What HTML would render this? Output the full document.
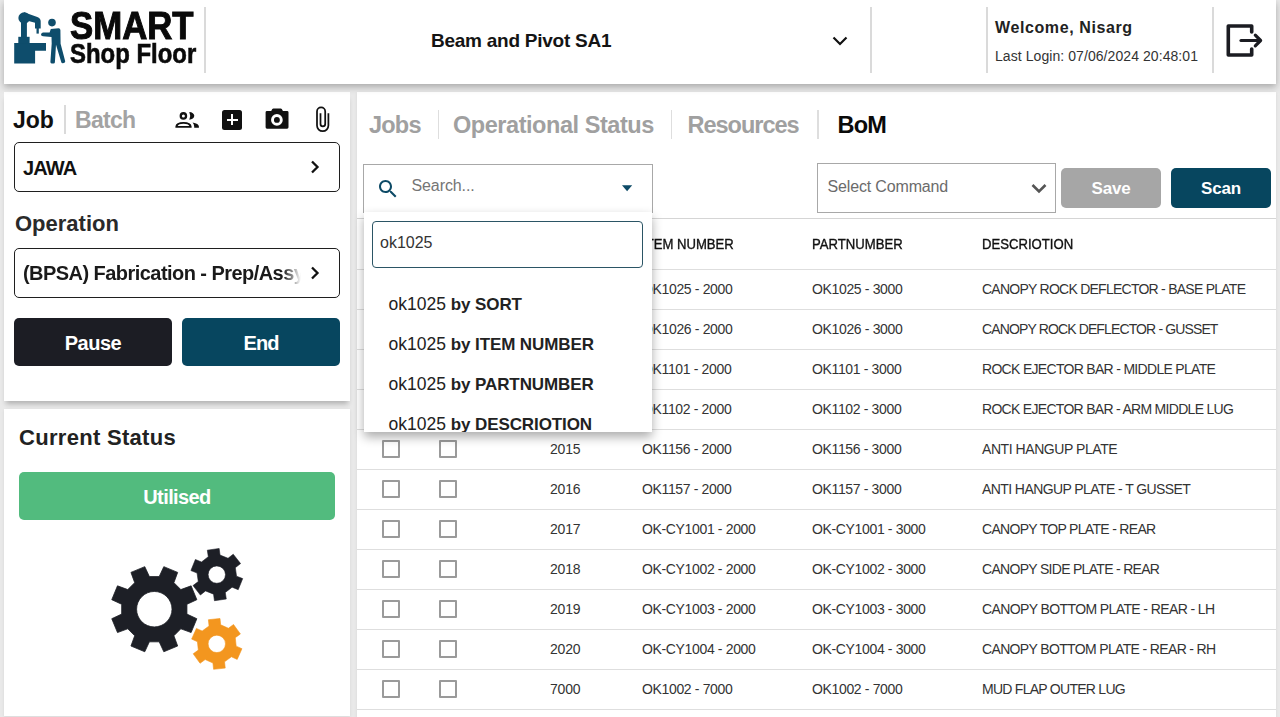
<!DOCTYPE html>
<html><head><meta charset="utf-8">
<style>
*{margin:0;padding:0;box-sizing:border-box}
html,body{width:1280px;height:717px;overflow:hidden}
body{background:#e9e9e9;font-family:"Liberation Sans",sans-serif;position:relative;color:#111}
.a{position:absolute}
.t{position:absolute;line-height:1;white-space:nowrap}
.b{font-weight:bold}
.card{position:absolute;background:#fff}
.vd{position:absolute;width:2px;background:#dadada}
.hl{position:absolute;height:1px;background:#dedede}
.cb{position:absolute;width:18px;height:18px;border:2px solid #9a9a9a;border-radius:1px}
</style></head><body>

<!-- page cards -->
<div class="card" style="left:4px;top:92px;width:346px;height:309px;box-shadow:0 5px 5px -2px rgba(0,0,0,.24)"></div>
<div class="card" style="left:4px;top:409px;width:346px;height:307px;box-shadow:0 1px 3px rgba(0,0,0,.08)"></div>
<div class="card" style="left:357px;top:92px;width:919px;height:640px;box-shadow:0 1px 3px rgba(0,0,0,.08)"></div>

<!-- header -->
<div class="card" style="left:4px;top:0;width:1272px;height:84px;box-shadow:0 3px 7px rgba(0,0,0,.28)"></div>

<!-- logo -->
<svg class="a" style="left:0;top:0" width="200" height="84" viewBox="0 0 200 84">
 <g fill="#0e4d6c">
  <path d="M14.2 43.1 H46 V50.7 H35.1 V63.6 H14.2 Z"/>
  <rect x="18.3" y="36.8" width="11.3" height="6.6"/>
  <rect x="21" y="20" width="5.9" height="17.2"/>
  <circle cx="24.2" cy="18" r="5.8"/>
  <path d="M24 12.2 L37.3 17 Q40.7 18.2 40.7 21.6 V28.4 H35 V22.7 L28.5 21 L24 23 Z"/>
  <rect x="36.5" y="28" width="2.3" height="5.6"/>
  <circle cx="52" cy="22.6" r="3.8"/>
  <path d="M50.8 28.9 L58.6 28.2 Q60.3 28.3 60.4 30 L60.6 43.8 L65.2 61.3 Q65.4 62.6 64 63 L62.6 63.3 Q61.6 63.3 61.3 62.3 L56 44.8 L54.9 62.2 Q54.8 63.4 53.5 63.4 L51.6 63.4 Q50.4 63.3 50.4 62 L51.7 43.5 L51.5 36.9 L43 36.3 Q41 36.2 41 34.5 Q41.2 32.6 42.9 32.4 L49.6 32.5 Z"/>
 </g>
</svg>
<div class="t b" id="smart" style="left:69.5px;top:7px;font-size:38px;color:#0a0a0a;-webkit-text-stroke:1px #0a0a0a;transform-origin:0 0;transform:scaleX(.915)">SMART</div>
<div class="t b" id="shop" style="left:69.5px;top:40px;font-size:27.5px;color:#0a0a0a;-webkit-text-stroke:0.6px #0a0a0a;transform-origin:0 0;transform:scaleX(.87)">Shop Floor</div>
<div class="vd" style="left:204px;top:7px;height:66px;width:1.5px"></div>

<div class="t b" style="left:431px;top:30.8px;font-size:19px;color:#141414;letter-spacing:-0.25px">Beam and Pivot SA1</div>
<svg class="a" style="left:830px;top:34px" width="20" height="14" viewBox="0 0 20 14"><path d="M3.5 3.5 L10 10 L16.5 3.5" fill="none" stroke="#111" stroke-width="2.2"/></svg>
<div class="vd" style="left:870px;top:7px;height:66px;width:1.5px"></div>
<div class="vd" style="left:986px;top:7px;height:66px;width:1.5px"></div>
<div class="t b" style="left:995px;top:20px;font-size:16px;color:#222;letter-spacing:0.6px">Welcome, Nisarg</div>
<div class="t" style="left:995px;top:49px;font-size:14px;color:#333;letter-spacing:0.07px">Last Login: 07/06/2024 20:48:01</div>
<div class="vd" style="left:1212px;top:7px;height:66px;width:1.5px"></div>
<svg class="a" style="left:1220px;top:18px" width="48" height="45" viewBox="0 0 48 45">
 <path d="M31.7 14 V8 H8.3 V37 H31.7 V31" fill="none" stroke="#1b1c22" stroke-width="3.6" stroke-linecap="round" stroke-linejoin="round"/>
 <path d="M21 22.5 H39.3" fill="none" stroke="#1b1c22" stroke-width="3.2" stroke-linecap="round"/>
 <path d="M35.3 17.2 L40.6 22.5 L35.3 27.8" fill="none" stroke="#1b1c22" stroke-width="3.2" stroke-linecap="round" stroke-linejoin="round"/>
</svg>

<!-- left card 1 -->
<div class="t b" style="left:13px;top:109px;font-size:23px;color:#111">Job</div>
<div class="vd" style="left:64px;top:105px;height:29px;width:1.5px"></div>
<div class="t b" style="left:75px;top:109px;font-size:23px;color:#a3a3a3;letter-spacing:-0.7px">Batch</div>

<!-- icons row -->
<svg class="a" style="left:172px;top:106px" width="30" height="26" viewBox="0 0 30 26">
 <circle cx="11.4" cy="9.9" r="2.65" fill="none" stroke="#111" stroke-width="2.3"/>
 <path d="M17.3 6 A5 3.85 0 0 1 17.3 13.7 A9 9 0 0 0 17.3 6 Z" fill="#111"/>
 <path d="M3.4 21.8 V20.6 Q3.8 16.1 11.5 16 Q19.2 16.1 19.6 20.6 V21.8 Z M5.7 20 Q6.6 17.9 11.5 17.8 Q16.4 17.9 17.3 20 Z" fill="#111" fill-rule="evenodd"/>
 <path d="M20.6 16.4 Q26.8 17.5 26.9 20.6 V21.8 H22.2 V20.6 Q22 18 20.6 16.4 Z" fill="#111"/>
</svg>
<div class="a" style="left:221.7px;top:109.8px;width:20.7px;height:20px;background:#111;border-radius:2.5px"></div>
<div class="a" style="left:226.5px;top:118.6px;width:11px;height:2.5px;background:#fff"></div>
<div class="a" style="left:230.8px;top:114.3px;width:2.5px;height:11px;background:#fff"></div>
<svg class="a" style="left:263px;top:106px" width="28" height="25" viewBox="0 0 28 25">
 <path d="M10.4 2.4 H17.7 Q18.4 2.4 18.8 3 L19.9 4.9 H24.1 Q25.5 4.9 25.5 6.3 V21.3 Q25.5 22.7 24.1 22.7 H4 Q2.6 22.7 2.6 21.3 V6.3 Q2.6 4.9 4 4.9 H8.2 L9.3 3 Q9.7 2.4 10.4 2.4 Z M13.9 8.05 A5.85 5.85 0 1 0 13.9 19.75 A5.85 5.85 0 1 0 13.9 8.05 Z M13.9 10.95 A2.95 2.95 0 1 1 13.9 16.85 A2.95 2.95 0 1 1 13.9 10.95 Z" fill="#111" fill-rule="evenodd"/>
</svg>
<svg class="a" style="left:308px;top:102px" width="30" height="35" viewBox="0 0 30 35">
 <path d="M20.4 11.2 V23.5 A5.7 5.7 0 0 1 9 23.5 V9.4 A4.1 4.1 0 0 1 17.2 9.4 V22 A2.35 2.35 0 0 1 12.5 22 V11.2" fill="none" stroke="#111" stroke-width="1.75" stroke-linecap="butt"/>
</svg>

<!-- JAWA -->
<div class="a" style="left:14px;top:142px;width:326px;height:50px;border:1.5px solid #1f1f1f;border-radius:5px"></div>
<div class="t b" style="left:23px;top:158px;font-size:20px;color:#111;letter-spacing:-0.8px">JAWA</div>
<svg class="a" style="left:305px;top:157px" width="20" height="20" viewBox="0 0 20 20"><path d="M7 4.5 L12.5 10 L7 15.5" fill="none" stroke="#111" stroke-width="2.3"/></svg>

<div class="t b" style="left:15px;top:213px;font-size:22px;color:#2a2a2a">Operation</div>

<div class="a" style="left:14px;top:248px;width:326px;height:50px;border:1.5px solid #1f1f1f;border-radius:5px"></div>
<div class="a" style="left:23px;top:256px;width:285px;height:34px;overflow:hidden;-webkit-mask-image:linear-gradient(to right,#000 260px,transparent 278px)">
 <div class="t b" style="left:0;top:7px;font-size:20px;color:#1a1a1a;letter-spacing:-0.55px">(BPSA) Fabrication - Prep/Assy</div>
</div>
<svg class="a" style="left:305px;top:263px" width="20" height="20" viewBox="0 0 20 20"><path d="M7 4.5 L12.5 10 L7 15.5" fill="none" stroke="#111" stroke-width="2.3"/></svg>

<!-- Pause / End -->
<div class="a" style="left:14px;top:318px;width:158px;height:48px;background:#1c1d24;border-radius:5px"></div>
<div class="t b" style="left:14px;width:158px;text-align:center;top:333px;font-size:20px;color:#fff;letter-spacing:-0.5px">Pause</div>
<div class="a" style="left:182px;top:318px;width:158px;height:48px;background:#07465f;border-radius:5px"></div>
<div class="t b" style="left:182px;width:158px;text-align:center;top:333px;font-size:20px;color:#fff;letter-spacing:-1px">End</div>

<!-- Current status -->
<div class="t b" style="left:19px;top:427px;font-size:22px;color:#222;letter-spacing:0.3px">Current Status</div>
<div class="a" style="left:19px;top:472px;width:316px;height:48px;background:#52bb7e;border-radius:5px"></div>
<div class="t b" style="left:19px;width:316px;text-align:center;top:487px;font-size:20px;color:#fff;letter-spacing:-0.6px">Utilised</div>

<svg class="a" style="left:0;top:0" width="350" height="717" viewBox="0 0 350 717">
 <path d="M159.21 576.57 L163.81 566.65 L177.66 572.39 L173.91 582.66 L180.84 589.59 L191.11 585.84 L196.85 599.69 L186.93 604.29 L186.93 614.11 L196.85 618.71 L191.11 632.56 L180.84 628.81 L173.91 635.74 L177.66 646.01 L163.81 651.75 L159.21 641.83 L149.39 641.83 L144.79 651.75 L130.94 646.01 L134.69 635.74 L127.76 628.81 L117.49 632.56 L111.75 618.71 L121.67 614.11 L121.67 604.29 L111.75 599.69 L117.49 585.84 L127.76 589.59 L134.69 582.66 L130.94 572.39 L144.79 566.65 L149.39 576.57 Z M136.60 609.20 A17.7 17.7 0 1 0 172.00 609.20 A17.7 17.7 0 1 0 136.60 609.20 Z" fill="#1d1f26" fill-rule="evenodd" stroke="#1d1f26" stroke-width="0.8" stroke-linejoin="round"/>
 <path d="M208.31 556.71 L207.33 550.17 L219.17 548.51 L220.03 555.07 L228.04 558.30 L233.22 554.18 L240.58 563.61 L235.33 567.63 L236.54 576.19 L242.69 578.61 L238.21 589.70 L232.10 587.17 L225.29 592.49 L226.27 599.03 L214.43 600.69 L213.57 594.13 L205.56 590.90 L200.38 595.02 L193.02 585.59 L198.27 581.57 L197.06 573.01 L190.91 570.59 L195.39 559.50 L201.50 562.03 Z M208.10 574.60 A8.7 8.7 0 1 0 225.50 574.60 A8.7 8.7 0 1 0 208.10 574.60 Z" fill="#1d1f26" fill-rule="evenodd" stroke="#1d1f26" stroke-width="0.6" stroke-linejoin="round"/>
 <path d="M209.06 626.00 L208.38 619.72 L220.01 618.50 L220.65 624.78 L228.43 628.25 L233.53 624.52 L240.40 633.98 L235.28 637.68 L236.17 646.14 L241.95 648.70 L237.19 659.38 L231.43 656.80 L224.54 661.80 L225.22 668.08 L213.59 669.30 L212.95 663.02 L205.17 659.55 L200.07 663.28 L193.20 653.82 L198.32 650.12 L197.43 641.66 L191.65 639.10 L196.41 628.42 L202.17 631.00 Z M208.10 643.90 A8.7 8.7 0 1 0 225.50 643.90 A8.7 8.7 0 1 0 208.10 643.90 Z" fill="#f3961f" fill-rule="evenodd" stroke="#f3961f" stroke-width="0.6" stroke-linejoin="round"/>
</svg>

<div class="t b" style="left:369px;top:113.8px;font-size:23.5px;color:#a0a0a0;letter-spacing:-0.8px">Jobs</div>
<div class="vd" style="left:437.5px;top:110px;height:29px;width:1.5px;background:#dedede"></div>
<div class="t b" style="left:453px;top:113.8px;font-size:23.5px;color:#a0a0a0;letter-spacing:-0.45px">Operational Status</div>
<div class="vd" style="left:670.7px;top:110px;height:29px;width:1.5px;background:#dedede"></div>
<div class="t b" style="left:687.5px;top:113.8px;font-size:23.5px;color:#a0a0a0;letter-spacing:-1.0px">Resources</div>
<div class="vd" style="left:817px;top:110px;height:29px;width:1.5px;background:#dedede"></div>
<div class="t b" style="left:837.5px;top:113.8px;font-size:23.5px;color:#0a0a0a;letter-spacing:-0.8px">BoM</div>
<div class="a" style="left:362.5px;top:163.5px;width:290px;height:49px;border:1px solid #a8a8a8;background:#fff"></div>
<svg class="a" style="left:375.5px;top:177.3px" width="24" height="24" viewBox="0 0 24 24"><path fill="#0d4a66" d="M15.5 14h-.79l-.28-.27C15.41 12.59 16 11.11 16 9.5 16 5.91 13.09 3 9.5 3S3 5.91 3 9.5 5.91 16 9.5 16c1.61 0 3.09-.59 4.23-1.57l.27.28v.79l5 4.99L20.49 19l-4.99-5zm-6 0C7.01 14 5 11.99 5 9.5S7.01 5 9.5 5 14 7.01 14 9.5 11.99 14 9.5 14z"/></svg>
<div class="t" style="left:411.5px;top:177.76px;font-size:16px;color:#757575;letter-spacing:-0.1px">Search...</div>
<svg class="a" style="left:620px;top:183px" width="14" height="10" viewBox="0 0 14 10"><path d="M2 2.3 H12.2 L7.1 8.3 Z" fill="#0d4a66"/></svg>
<div class="a" style="left:816.5px;top:163px;width:239.5px;height:49.5px;border:1px solid #a8a8a8;background:#fff"></div>
<div class="t" style="left:827.5px;top:178.96px;font-size:16px;color:#6b6b6b;letter-spacing:-0.15px">Select Command</div>
<svg class="a" style="left:1029px;top:180px" width="20" height="16" viewBox="0 0 20 16"><path d="M3.5 5 L10 11.5 L16.5 5" fill="none" stroke="#555" stroke-width="2.6"/></svg>
<div class="a" style="left:1061px;top:168px;width:100px;height:40px;background:#a6a6a6;border-radius:5px"></div>
<div class="t b" style="left:1061px;width:100px;text-align:center;top:180.21px;font-size:17px;color:#fff;letter-spacing:-0.2px">Save</div>
<div class="a" style="left:1171px;top:168px;width:100px;height:40px;background:#07465f;border-radius:5px"></div>
<div class="t b" style="left:1171px;width:100px;text-align:center;top:180.21px;font-size:17px;color:#fff;letter-spacing:-0.2px">Scan</div>
<div class="hl" style="left:357px;top:217.5px;width:919px;background:#d5d5d5"></div>
<div class="t" style="left:642px;top:237.15px;font-size:14px;color:#111;-webkit-text-stroke:0.35px #111;transform-origin:0 0;transform:scaleX(0.937)">ITEM NUMBER</div>
<div class="t" style="left:812px;top:237.15px;font-size:14px;color:#111;-webkit-text-stroke:0.35px #111;transform-origin:0 0;transform:scaleX(0.937)">PARTNUMBER</div>
<div class="t" style="left:982px;top:237.15px;font-size:14px;color:#111;-webkit-text-stroke:0.35px #111;transform-origin:0 0;transform:scaleX(0.937)">DESCRIOTION</div>
<div class="hl" style="left:357px;top:269px;width:919px"></div>
<div class="cb" style="left:382px;top:280.0px"></div><div class="cb" style="left:439px;top:280.0px"></div>
<div class="t" style="left:550px;top:281.95px;font-size:14px;color:#333;letter-spacing:-0.2px">2011</div>
<div class="t" style="left:642px;top:281.95px;font-size:14px;color:#333;letter-spacing:-0.35px">OK1025 - 2000</div>
<div class="t" style="left:812px;top:281.95px;font-size:14px;color:#333;letter-spacing:-0.35px">OK1025 - 3000</div>
<div class="t" style="left:982px;top:281.95px;font-size:14px;color:#333;letter-spacing:-0.746px">CANOPY ROCK DEFLECTOR - BASE PLATE</div>
<div class="hl" style="left:357px;top:309.0px;width:919px"></div>
<div class="cb" style="left:382px;top:320.0px"></div><div class="cb" style="left:439px;top:320.0px"></div>
<div class="t" style="left:550px;top:321.95px;font-size:14px;color:#333;letter-spacing:-0.2px">2012</div>
<div class="t" style="left:642px;top:321.95px;font-size:14px;color:#333;letter-spacing:-0.35px">OK1026 - 2000</div>
<div class="t" style="left:812px;top:321.95px;font-size:14px;color:#333;letter-spacing:-0.35px">OK1026 - 3000</div>
<div class="t" style="left:982px;top:321.95px;font-size:14px;color:#333;letter-spacing:-0.87px">CANOPY ROCK DEFLECTOR - GUSSET</div>
<div class="hl" style="left:357px;top:349.0px;width:919px"></div>
<div class="cb" style="left:382px;top:360.0px"></div><div class="cb" style="left:439px;top:360.0px"></div>
<div class="t" style="left:550px;top:361.95px;font-size:14px;color:#333;letter-spacing:-0.2px">2013</div>
<div class="t" style="left:642px;top:361.95px;font-size:14px;color:#333;letter-spacing:-0.35px">OK1101 - 2000</div>
<div class="t" style="left:812px;top:361.95px;font-size:14px;color:#333;letter-spacing:-0.35px">OK1101 - 3000</div>
<div class="t" style="left:982px;top:361.95px;font-size:14px;color:#333;letter-spacing:-0.692px">ROCK EJECTOR BAR - MIDDLE PLATE</div>
<div class="hl" style="left:357px;top:389.0px;width:919px"></div>
<div class="cb" style="left:382px;top:400.0px"></div><div class="cb" style="left:439px;top:400.0px"></div>
<div class="t" style="left:550px;top:401.95px;font-size:14px;color:#333;letter-spacing:-0.2px">2014</div>
<div class="t" style="left:642px;top:401.95px;font-size:14px;color:#333;letter-spacing:-0.35px">OK1102 - 2000</div>
<div class="t" style="left:812px;top:401.95px;font-size:14px;color:#333;letter-spacing:-0.35px">OK1102 - 3000</div>
<div class="t" style="left:982px;top:401.95px;font-size:14px;color:#333;letter-spacing:-0.703px">ROCK EJECTOR BAR - ARM MIDDLE LUG</div>
<div class="hl" style="left:357px;top:429.0px;width:919px"></div>
<div class="cb" style="left:382px;top:440.0px"></div><div class="cb" style="left:439px;top:440.0px"></div>
<div class="t" style="left:550px;top:441.95px;font-size:14px;color:#333;letter-spacing:-0.2px">2015</div>
<div class="t" style="left:642px;top:441.95px;font-size:14px;color:#333;letter-spacing:-0.35px">OK1156 - 2000</div>
<div class="t" style="left:812px;top:441.95px;font-size:14px;color:#333;letter-spacing:-0.35px">OK1156 - 3000</div>
<div class="t" style="left:982px;top:441.95px;font-size:14px;color:#333;letter-spacing:-0.434px">ANTI HANGUP PLATE</div>
<div class="hl" style="left:357px;top:469.0px;width:919px"></div>
<div class="cb" style="left:382px;top:480.0px"></div><div class="cb" style="left:439px;top:480.0px"></div>
<div class="t" style="left:550px;top:481.95px;font-size:14px;color:#333;letter-spacing:-0.2px">2016</div>
<div class="t" style="left:642px;top:481.95px;font-size:14px;color:#333;letter-spacing:-0.35px">OK1157 - 2000</div>
<div class="t" style="left:812px;top:481.95px;font-size:14px;color:#333;letter-spacing:-0.35px">OK1157 - 3000</div>
<div class="t" style="left:982px;top:481.95px;font-size:14px;color:#333;letter-spacing:-0.583px">ANTI HANGUP PLATE - T GUSSET</div>
<div class="hl" style="left:357px;top:509.0px;width:919px"></div>
<div class="cb" style="left:382px;top:520.0px"></div><div class="cb" style="left:439px;top:520.0px"></div>
<div class="t" style="left:550px;top:521.95px;font-size:14px;color:#333;letter-spacing:-0.2px">2017</div>
<div class="t" style="left:642px;top:521.95px;font-size:14px;color:#333;letter-spacing:-0.35px">OK-CY1001 - 2000</div>
<div class="t" style="left:812px;top:521.95px;font-size:14px;color:#333;letter-spacing:-0.35px">OK-CY1001 - 3000</div>
<div class="t" style="left:982px;top:521.95px;font-size:14px;color:#333;letter-spacing:-0.69px">CANOPY TOP PLATE - REAR</div>
<div class="hl" style="left:357px;top:549.0px;width:919px"></div>
<div class="cb" style="left:382px;top:560.0px"></div><div class="cb" style="left:439px;top:560.0px"></div>
<div class="t" style="left:550px;top:561.95px;font-size:14px;color:#333;letter-spacing:-0.2px">2018</div>
<div class="t" style="left:642px;top:561.95px;font-size:14px;color:#333;letter-spacing:-0.35px">OK-CY1002 - 2000</div>
<div class="t" style="left:812px;top:561.95px;font-size:14px;color:#333;letter-spacing:-0.35px">OK-CY1002 - 3000</div>
<div class="t" style="left:982px;top:561.95px;font-size:14px;color:#333;letter-spacing:-0.697px">CANOPY SIDE PLATE - REAR</div>
<div class="hl" style="left:357px;top:589.0px;width:919px"></div>
<div class="cb" style="left:382px;top:600.0px"></div><div class="cb" style="left:439px;top:600.0px"></div>
<div class="t" style="left:550px;top:601.95px;font-size:14px;color:#333;letter-spacing:-0.2px">2019</div>
<div class="t" style="left:642px;top:601.95px;font-size:14px;color:#333;letter-spacing:-0.35px">OK-CY1003 - 2000</div>
<div class="t" style="left:812px;top:601.95px;font-size:14px;color:#333;letter-spacing:-0.35px">OK-CY1003 - 3000</div>
<div class="t" style="left:982px;top:601.95px;font-size:14px;color:#333;letter-spacing:-0.607px">CANOPY BOTTOM PLATE - REAR - LH</div>
<div class="hl" style="left:357px;top:629.0px;width:919px"></div>
<div class="cb" style="left:382px;top:640.0px"></div><div class="cb" style="left:439px;top:640.0px"></div>
<div class="t" style="left:550px;top:641.95px;font-size:14px;color:#333;letter-spacing:-0.2px">2020</div>
<div class="t" style="left:642px;top:641.95px;font-size:14px;color:#333;letter-spacing:-0.35px">OK-CY1004 - 2000</div>
<div class="t" style="left:812px;top:641.95px;font-size:14px;color:#333;letter-spacing:-0.35px">OK-CY1004 - 3000</div>
<div class="t" style="left:982px;top:641.95px;font-size:14px;color:#333;letter-spacing:-0.647px">CANOPY BOTTOM PLATE - REAR - RH</div>
<div class="hl" style="left:357px;top:669.0px;width:919px"></div>
<div class="cb" style="left:382px;top:680.0px"></div><div class="cb" style="left:439px;top:680.0px"></div>
<div class="t" style="left:550px;top:681.95px;font-size:14px;color:#333;letter-spacing:-0.2px">7000</div>
<div class="t" style="left:642px;top:681.95px;font-size:14px;color:#333;letter-spacing:-0.35px">OK1002 - 7000</div>
<div class="t" style="left:812px;top:681.95px;font-size:14px;color:#333;letter-spacing:-0.35px">OK1002 - 7000</div>
<div class="t" style="left:982px;top:681.95px;font-size:14px;color:#333;letter-spacing:-0.731px">MUD FLAP OUTER LUG</div>
<div class="hl" style="left:357px;top:709.0px;width:919px"></div>
<div class="a" style="left:364px;top:212px;width:288px;height:220px;background:#fff;box-shadow:0 5px 10px rgba(0,0,0,.33);overflow:hidden">
<div class="a" style="left:8px;top:8.5px;width:271px;height:47px;border:1px solid #2b5565;border-radius:4px"></div>
<div class="t" style="left:16px;top:23.159999999999997px;font-size:16px;color:#333">ok1025</div>
<div class="t" style="left:24.5px;top:83.69px;font-size:17.5px;color:#222">ok1025 <b style="letter-spacing:-0.1px;font-size:17px">by SORT</b></div>
<div class="t" style="left:24.5px;top:123.69px;font-size:17.5px;color:#222">ok1025 <b style="letter-spacing:-0.1px;font-size:17px">by ITEM NUMBER</b></div>
<div class="t" style="left:24.5px;top:163.69px;font-size:17.5px;color:#222">ok1025 <b style="letter-spacing:-0.1px;font-size:17px">by PARTNUMBER</b></div>
<div class="t" style="left:24.5px;top:203.69px;font-size:17.5px;color:#222">ok1025 <b style="letter-spacing:-0.1px;font-size:17px">by DESCRIOTION</b></div>
</div>
</body></html>
